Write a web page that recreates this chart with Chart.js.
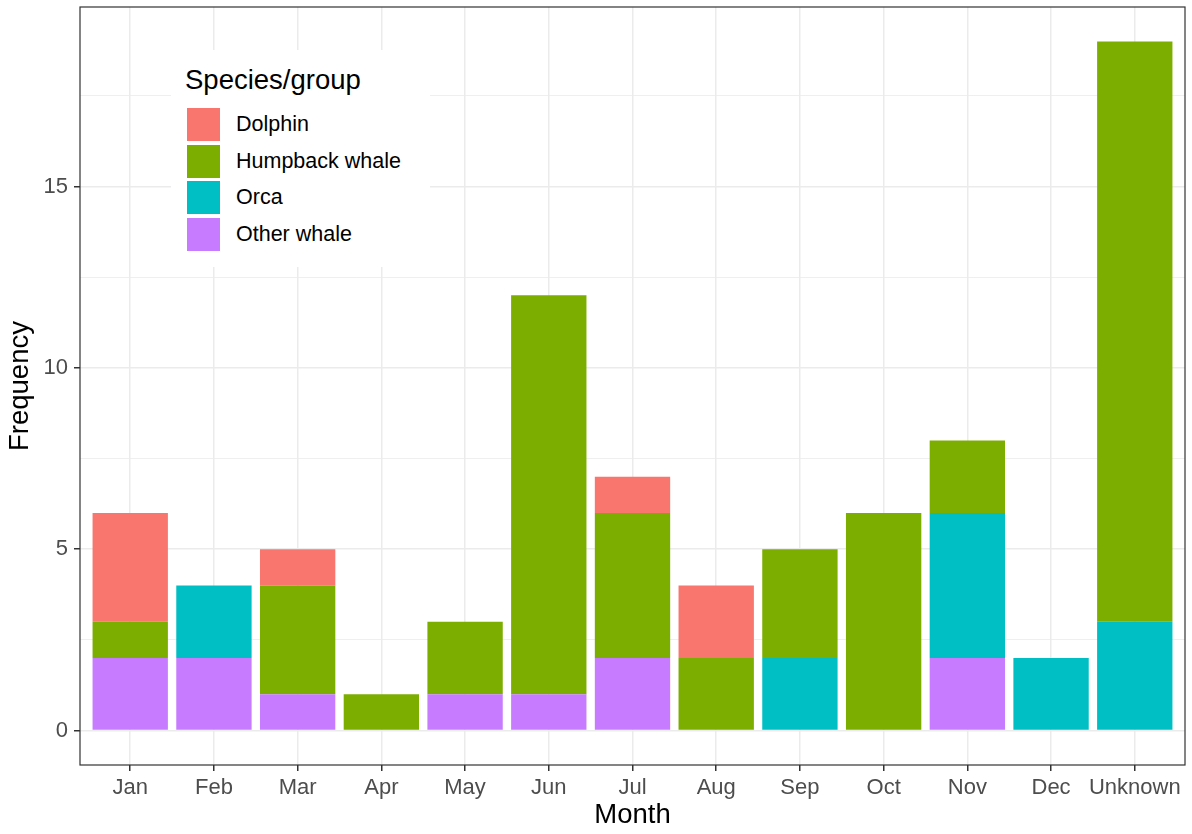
<!DOCTYPE html>
<html>
<head>
<meta charset="utf-8">
<script src="https://cdn.jsdelivr.net/npm/chart.js@4/dist/chart.umd.min.js"></script>
<style>
  html, body { margin: 0; padding: 0; background: #fff; }
  #wrap { position: relative; width: 1192px; height: 834px; }
  #legend { position: absolute; left: 171px; top: 50px; width: 259px; height: 217px; background: #fff;
            font-family: "Liberation Sans", Arial, sans-serif; color: #000; box-sizing: border-box; }
  #legend .title { position: absolute; left: 14px; top: 14px; font-size: 27.5px; line-height: 32px; }
  #legend .item { position: absolute; left: 16px; height: 33px; display: flex; align-items: center; }
  #legend .sw { width: 33px; height: 33px; margin-right: 16px; }
  #legend .lab { font-size: 21.5px; }
</style>
</head>
<body>
<div id="wrap">
  <canvas id="c" width="1192" height="834"></canvas>
  <div id="legend"></div>
</div>
<script>
const months = ["Jan","Feb","Mar","Apr","May","Jun","Jul","Aug","Sep","Oct","Nov","Dec","Unknown"];
const otherWhale = [2, 2, 1, 0, 1, 1, 2, 0, 0, 0, 2, 0, 0];
const orca       = [0, 2, 0, 0, 0, 0, 0, 0, 2, 0, 4, 2, 3];
const humpback   = [1, 0, 3, 1, 2, 11, 4, 2, 3, 6, 2, 0, 16];
const dolphin    = [3, 0, 1, 0, 0, 0, 1, 2, 0, 0, 0, 0, 0];
const yMajorTicks = [0, 5, 10, 15];
const yGridTicks = [0, 2.5, 5, 7.5, 10, 12.5, 15, 17.5];

const colors = { dolphin: "#F8766D", humpback: "#7CAE00", orca: "#00BFC4", other: "#C77CFF" };

function pts(arr) { return arr.map((v, i) => ({ x: i, y: v })); }

const datasets = [
  { label: "Other whale", data: pts(otherWhale), backgroundColor: colors.other },
  { label: "Orca", data: pts(orca), backgroundColor: colors.orca },
  { label: "Humpback whale", data: pts(humpback), backgroundColor: colors.humpback },
  { label: "Dolphin", data: pts(dolphin), backgroundColor: colors.dolphin }
].map(d => Object.assign(d, { borderWidth: 0, categoryPercentage: 1, barPercentage: 0.9 }));

const FONT = "'Liberation Sans', Arial, sans-serif";

const frame = {
  id: "frame",
  afterDraw(chart) {
    const a = chart.chartArea, ctx = chart.ctx;
    ctx.save();
    ctx.strokeStyle = "#333333";
    ctx.lineWidth = 1.2;
    ctx.strokeRect(a.left, a.top, a.right - a.left, a.bottom - a.top);
    ctx.restore();
  }
};

const chart = new Chart(document.getElementById("c"), {
  type: "bar",
  data: { datasets },
  plugins: [frame],
  options: {
    responsive: false,
    animation: false,
    layout: { padding: { left: 0, top: 7, right: 7, bottom: 0 } },
    plugins: { legend: { display: false }, tooltip: { enabled: false } },
    scales: {
      x: {
        type: "linear",
        stacked: true,
        min: -0.6,
        max: 12.6,
        offset: false,
        afterBuildTicks(axis) { axis.ticks = months.map((m, i) => ({ value: i })); },
        afterFit(axis) { axis.height = 69; axis.paddingLeft = 0; axis.paddingRight = 0; },
        ticks: {
          autoSkip: false,
          maxRotation: 0,
          padding: 4,
          color: "#4D4D4D",
          font: { family: FONT, size: 22 },
          callback: (v) => months[v]
        },
        grid: {
          offset: false,
          color: "#EBEBEB",
          lineWidth: 1.5,
          drawTicks: true,
          tickLength: 6,
          tickColor: "#333333",
          tickWidth: 1.5
        },
        border: { display: false },
        title: { display: true, text: "Month", color: "#000", font: { family: FONT, size: 27.5 }, padding: { top: 0, bottom: 2 } }
      },
      y: {
        stacked: true,
        min: -0.95,
        max: 19.95,
        afterBuildTicks(axis) { axis.ticks = yGridTicks.map(v => ({ value: v })); },
        afterFit(axis) { axis.width = 80; axis.paddingTop = 0; axis.paddingBottom = 0; },
        ticks: {
          padding: 6,
          color: "#4D4D4D",
          font: { family: FONT, size: 22 },
          callback: (v) => yMajorTicks.includes(v) ? String(v) : ""
        },
        grid: {
          color: "#EBEBEB",
          lineWidth: (c) => (c.tick && yMajorTicks.includes(c.tick.value)) ? 1.5 : 0.8,
          drawTicks: true,
          tickLength: 6,
          tickColor: (c) => (c.tick && yMajorTicks.includes(c.tick.value)) ? "#333333" : "rgba(0,0,0,0)",
          tickWidth: 1.5
        },
        border: { display: false },
        title: { display: true, text: "Frequency", color: "#000", font: { family: FONT, size: 27.5 }, padding: { top: 4, bottom: 3 } }
      }
    }
  }
});

// HTML legend built from the chart's datasets (top-to-bottom = reverse stacking order)
const legendEl = document.getElementById("legend");
const t = document.createElement("div");
t.className = "title";
t.textContent = "Species/group";
legendEl.appendChild(t);
chart.data.datasets.slice().reverse().forEach((ds, i) => {
  const it = document.createElement("div");
  it.className = "item";
  it.style.top = (58 + i * 36.5) + "px";
  const sw = document.createElement("div");
  sw.className = "sw";
  sw.style.background = ds.backgroundColor;
  const lab = document.createElement("span");
  lab.className = "lab";
  lab.textContent = ds.label;
  it.appendChild(sw);
  it.appendChild(lab);
  legendEl.appendChild(it);
});
</script>
</body>
</html>
